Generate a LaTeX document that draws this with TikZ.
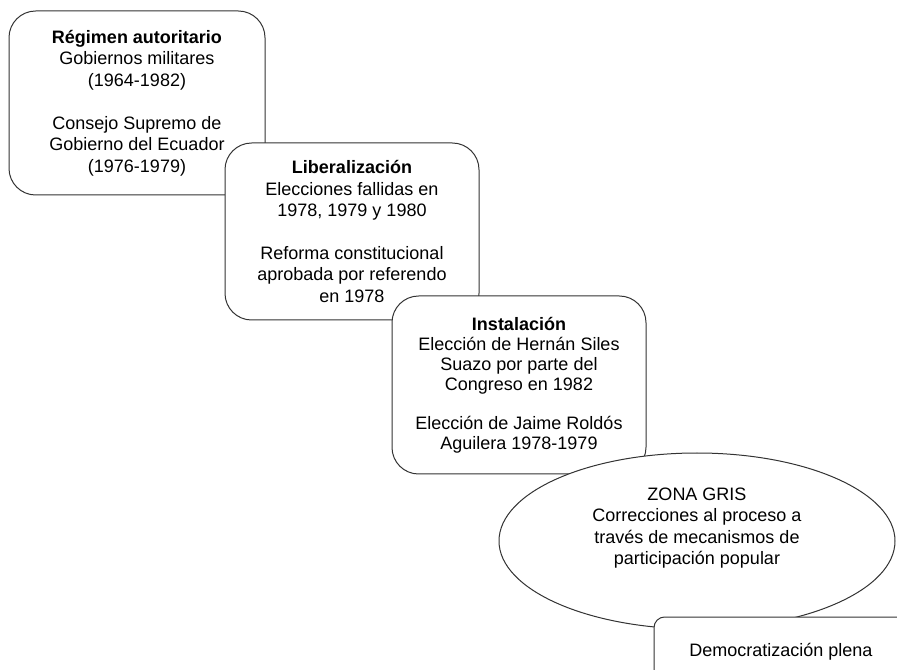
\documentclass[tikz,border=0pt]{standalone}
\usepackage{fontspec}
\setmainfont{Liberation Sans}
\usetikzlibrary{shapes.geometric}
\tikzset{
	etapa/.style={draw=black!80, line width=0.75pt, fill=white, rounded corners=20pt, align=center, inner sep=0pt, minimum width=190.5pt, minimum height=133.5pt, font=\fontsize{13.5}{16.1}\selectfont},
	zona/.style={ellipse, draw=black!80, line width=0.75pt, fill=white, align=center, inner sep=0pt, minimum width=297pt, minimum height=132pt, font=\fontsize{13.5}{16.1}\selectfont},
}
\begin{document}
\begin{tikzpicture}[x=0.75pt, y=-0.75pt]
			%%%%% START %%%%%
			
			\useasboundingbox (0, 0) rectangle (897, 670);
			\clip (0, 0) rectangle (897, 670);
			
			\node[etapa, minimum width=192pt, minimum height=138pt] (autoritario) at (137, 103) {\textbf{Régimen autoritario}\\Gobiernos militares\\(1964-1982)\\[16.1pt]Consejo Supremo de\\Gobierno del Ecuador\\(1976-1979)};
			
			\node[etapa, minimum height=132.75pt] (liberalizacion) at (352, 231.5) {\textbf{Liberalización}\\Elecciones fallidas en\\1978, 1979 y 1980\\[16.1pt]Reforma constitucional\\aprobada por referendo\\en 1978};
			
			\node[etapa, font=\fontsize{13.5}{15}\selectfont] (instalacion) at (519, 385) {\textbf{Instalación}\\Elección de Hernán Siles\\Suazo por parte del\\Congreso en 1982\\[14pt]Elección de Jaime Roldós\\Aguilera 1978-1979};
			
			\node[zona] (gris) at (697, 541) {ZONA GRIS\\Correcciones al proceso a\\través de mecanismos de\\participación popular\\[6pt]};
			
			\node[etapa, rounded corners=8pt, minimum height=52.5pt] (plena) at (781, 652) {Democratización plena};
			
			%%%%% END %%%%%
\end{tikzpicture}
\end{document}
